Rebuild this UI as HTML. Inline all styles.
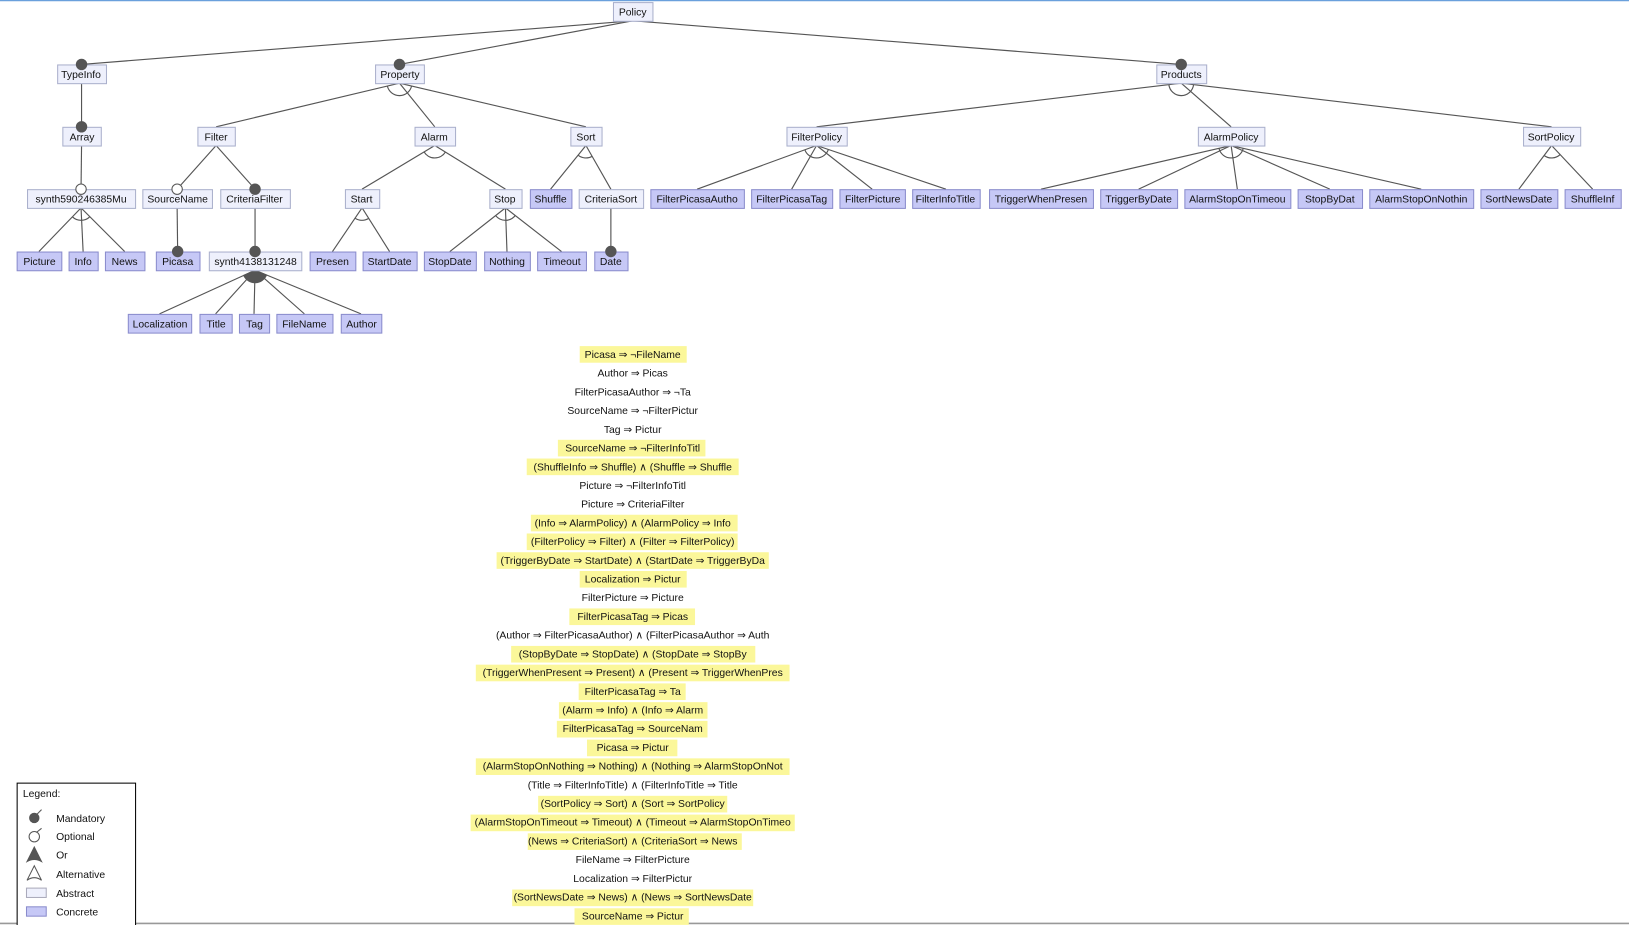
<!DOCTYPE html>
<html><head><meta charset="utf-8"><style>
html,body{margin:0;padding:0;background:#fff;}
svg{display:block;}
text{font-family:"Liberation Sans",sans-serif;font-size:10px;fill:#111;}
</style></head><body>
<svg id="s" width="1629" height="925" viewBox="0 0 1568 890" preserveAspectRatio="none" xmlns="http://www.w3.org/2000/svg">
<line x1="0" y1="0.5" x2="1568" y2="0.5" stroke="#6aa0dc" stroke-width="1.5"/>
<line x1="0" y1="888.5" x2="1568" y2="888.5" stroke="#999" stroke-width="1.5"/>
<g id="edges"></g>
<g id="boxes"></g>
<g id="labels" text-anchor="middle">
<text x="609" y="15">Policy</text>
<text x="78" y="75">TypeInfo</text>
<text x="385" y="75">Property</text>
<text x="1137" y="75">Products</text>
<text x="79" y="135">Array</text>
<text x="208" y="135">Filter</text>
<text x="418" y="135">Alarm</text>
<text x="564" y="135">Sort</text>
<text x="786" y="135">FilterPolicy</text>
<text x="1185" y="135">AlarmPolicy</text>
<text x="1493" y="135">SortPolicy</text>
<text x="78" y="195">synth590246385Mu</text>
<text x="171" y="195">SourceName</text>
<text x="245" y="195">CriteriaFilter</text>
<text x="348" y="195">Start</text>
<text x="486" y="195">Stop</text>
<text x="530" y="195">Shuffle</text>
<text x="588" y="195">CriteriaSort</text>
<text x="671" y="195">FilterPicasaAutho</text>
<text x="762" y="195">FilterPicasaTag</text>
<text x="840" y="195">FilterPicture</text>
<text x="910" y="195">FilterInfoTitle</text>
<text x="1002" y="195">TriggerWhenPresen</text>
<text x="1096" y="195">TriggerByDate</text>
<text x="1191" y="195">AlarmStopOnTimeou</text>
<text x="1280" y="195">StopByDat</text>
<text x="1368" y="195">AlarmStopOnNothin</text>
<text x="1462" y="195">SortNewsDate</text>
<text x="1533" y="195">ShuffleInf</text>
<text x="38" y="255">Picture</text>
<text x="80" y="255">Info</text>
<text x="120" y="255">News</text>
<text x="171" y="255">Picasa</text>
<text x="246" y="255">synth4138131248</text>
<text x="320" y="255">Presen</text>
<text x="375" y="255">StartDate</text>
<text x="433" y="255">StopDate</text>
<text x="488" y="255">Nothing</text>
<text x="541" y="255">Timeout</text>
<text x="588" y="255">Date</text>
<text x="154" y="315">Localization</text>
<text x="208" y="315">Title</text>
<text x="245" y="315">Tag</text>
<text x="293" y="315">FileName</text>
<text x="348" y="315">Author</text>
</g>
<g id="hl" fill="#fbf79a"></g>
<g id="cons" text-anchor="middle">
<text x="609" y="344.5">Picasa ⇒ ¬FileName</text>
<text x="609" y="362.5">Author ⇒ Picas</text>
<text x="609" y="380.5">FilterPicasaAuthor ⇒ ¬Ta</text>
<text x="609" y="398.5">SourceName ⇒ ¬FilterPictur</text>
<text x="609" y="416.5">Tag ⇒ Pictur</text>
<text x="609" y="434.5">SourceName ⇒ ¬FilterInfoTitl</text>
<text x="609" y="452.5">(ShuffleInfo ⇒ Shuffle) ∧ (Shuffle ⇒ Shuffle</text>
<text x="609" y="470.5">Picture ⇒ ¬FilterInfoTitl</text>
<text x="609" y="488.5">Picture ⇒ CriteriaFilter</text>
<text x="609" y="506.5">(Info ⇒ AlarmPolicy) ∧ (AlarmPolicy ⇒ Info</text>
<text x="609" y="524.5">(FilterPolicy ⇒ Filter) ∧ (Filter ⇒ FilterPolicy)</text>
<text x="609" y="542.5">(TriggerByDate ⇒ StartDate) ∧ (StartDate ⇒ TriggerByDa</text>
<text x="609" y="560.5">Localization ⇒ Pictur</text>
<text x="609" y="578.5">FilterPicture ⇒ Picture</text>
<text x="609" y="596.5">FilterPicasaTag ⇒ Picas</text>
<text x="609" y="614.5">(Author ⇒ FilterPicasaAuthor) ∧ (FilterPicasaAuthor ⇒ Auth</text>
<text x="609" y="632.5">(StopByDate ⇒ StopDate) ∧ (StopDate ⇒ StopBy</text>
<text x="609" y="650.5">(TriggerWhenPresent ⇒ Present) ∧ (Present ⇒ TriggerWhenPres</text>
<text x="609" y="668.5">FilterPicasaTag ⇒ Ta</text>
<text x="609" y="686.5">(Alarm ⇒ Info) ∧ (Info ⇒ Alarm</text>
<text x="609" y="704.5">FilterPicasaTag ⇒ SourceNam</text>
<text x="609" y="722.5">Picasa ⇒ Pictur</text>
<text x="609" y="740.5">(AlarmStopOnNothing ⇒ Nothing) ∧ (Nothing ⇒ AlarmStopOnNot</text>
<text x="609" y="758.5">(Title ⇒ FilterInfoTitle) ∧ (FilterInfoTitle ⇒ Title</text>
<text x="609" y="776.5">(SortPolicy ⇒ Sort) ∧ (Sort ⇒ SortPolicy</text>
<text x="609" y="794.5">(AlarmStopOnTimeout ⇒ Timeout) ∧ (Timeout ⇒ AlarmStopOnTimeo</text>
<text x="609" y="812.5">(News ⇒ CriteriaSort) ∧ (CriteriaSort ⇒ News</text>
<text x="609" y="830.5">FileName ⇒ FilterPicture</text>
<text x="609" y="848.5">Localization ⇒ FilterPictur</text>
<text x="609" y="866.5">(SortNewsDate ⇒ News) ∧ (News ⇒ SortNewsDate</text>
<text x="609" y="884.5">SourceName ⇒ Pictur</text>
</g>
<g id="legend">
<rect x="16.5" y="753.5" width="114" height="140" fill="#fff" stroke="#000"/>
<text x="22" y="767">Legend:</text>
<circle cx="33" cy="787" r="5" fill="#555"/><line x1="35" y1="784" x2="40" y2="779" stroke="#555"/>
<text x="54" y="791">Mandatory</text>
<circle cx="33" cy="805" r="5" fill="#fff" stroke="#555"/><line x1="35" y1="801" x2="40" y2="797" stroke="#555"/>
<text x="54" y="808">Optional</text>
<path d="M26 829 L33 815 L40 829 Q33 825 26 829Z" fill="#555" stroke="#555"/>
<text x="54" y="826">Or</text>
<path d="M26 847 L33 833 L40 847 M26 847 Q33 842 40 847" fill="none" stroke="#555"/>
<text x="54" y="845">Alternative</text>
<rect x="25.5" y="854.5" width="19" height="9" fill="#eef0fc" stroke="#aab"/>
<text x="54" y="863">Abstract</text>
<rect x="25.5" y="872.5" width="19" height="9" fill="#c6c8f6" stroke="#8a8ccc"/>
<text x="54" y="881">Concrete</text>
</g>
</svg>
<script>
(function(){
var N={
Policy:[590,628,0,0],TypeInfo:[55,102,1,0],Property:[361,408,1,0],Products:[1113,1161,1,0],
Array:[60,97,2,0],Filter:[190,226,2,0],Alarm:[399,438,2,0],Sort:[549,579,2,0],FilterPolicy:[757,815,2,0],AlarmPolicy:[1153,1217,2,0],SortPolicy:[1466,1521,2,0],
Synth1:[26,130,3,0],SourceName:[137,204,3,0],CriteriaFilter:[212,279,3,0],Start:[332,365,3,0],Stop:[471,502,3,0],Shuffle:[510,550,3,1],CriteriaSort:[557,619,3,0],
FPA:[626,716,3,1],FPT:[723,801,3,1],FP:[808,871,3,1],FIT:[878,943,3,1],TWP:[952,1052,3,1],TBD:[1059,1133,3,1],ASOT:[1140,1242,3,1],SBD:[1249,1311,3,1],ASON:[1318,1418,3,1],SND:[1425,1499,3,1],SI:[1506,1560,3,1],
Picture:[16,59,4,1],Info:[66,94,4,1],News:[101,139,4,1],Picasa:[150,192,4,1],Synth2:[201,290,4,0],Presen:[298,342,4,1],StartDate:[349,401,4,1],StopDate:[408,458,4,1],Nothing:[466,510,4,1],Timeout:[517,564,4,1],Date:[572,604,4,1],
Loc:[123,184,5,1],Title:[192,223,5,1],Tag:[230,259,5,1],FileName:[266,320,5,1],Author:[328,367,5,1]};
var E=[["Policy","m",["TypeInfo","Property","Products"]],["TypeInfo","m",["Array"]],["Array","o",["Synth1"]],
["Synth1","alt",["Picture","Info","News"]],["Property","alt",["Filter","Alarm","Sort"]],["Filter","mix",[["SourceName","o"],["CriteriaFilter","m"]]],
["SourceName","m",["Picasa"]],["CriteriaFilter","m",["Synth2"]],["Synth2","or",["Loc","Title","Tag","FileName","Author"]],
["Alarm","alt",["Start","Stop"]],["Start","alt",["Presen","StartDate"]],["Stop","alt",["StopDate","Nothing","Timeout"]],["Sort","alt",["Shuffle","CriteriaSort"]],["CriteriaSort","m",["Date"]],
["Products","alt",["FilterPolicy","AlarmPolicy","SortPolicy"]],["FilterPolicy","alt",["FPA","FPT","FP","FIT"]],["AlarmPolicy","alt",["TWP","TBD","ASOT","SBD","ASON"]],["SortPolicy","alt",["SND","SI"]]];
var ns="http://www.w3.org/2000/svg",eg=document.getElementById("edges"),bg=document.getElementById("boxes");
function el(t,a,p){var e=document.createElementNS(ns,t);for(var k in a)e.setAttribute(k,a[k]);p.appendChild(e);return e;}
function ptTop(n){var b=N[n];return [(b[0]+b[1])/2,b[2]*60+2];}
function ptBot(n){var b=N[n];return [(b[0]+b[1])/2,b[2]*60+20];}
var circles=[];
E.forEach(function(e){var p=ptBot(e[0]);var kids=e[2];var angs=[];
kids.forEach(function(k){var name=k,typ=e[1];if(Array.isArray(k)){name=k[0];typ=k[1];}
var c=ptTop(name);el("line",{x1:p[0],y1:p[1],x2:c[0],y2:c[1],stroke:"#555","stroke-width":1.1},eg);
angs.push(Math.atan2(c[1]-p[1],c[0]-p[0]));
if(typ=="m"||typ=="o")circles.push([c[0],c[1],typ]);});
if(e[1]=="alt"||e[1]=="or"){var r=12,a1=Math.max.apply(null,angs),a2=Math.min.apply(null,angs);
var x1=p[0]+r*Math.cos(a1),y1=p[1]+r*Math.sin(a1),x2=p[0]+r*Math.cos(a2),y2=p[1]+r*Math.sin(a2);
if(e[1]=="alt")el("path",{d:"M"+x1+" "+y1+" A"+r+" "+r+" 0 0 0 "+x2+" "+y2,fill:"none",stroke:"#555","stroke-width":1.1},eg);
else el("path",{d:"M"+p[0]+" "+p[1]+" L"+x1+" "+y1+" A"+r+" "+r+" 0 0 0 "+x2+" "+y2+"Z",fill:"#555",stroke:"#555"},eg);}});
for(var n in N){var b=N[n];el("rect",{x:b[0]+0.5,y:b[2]*60+2.5,width:b[1]-b[0],height:18,fill:b[3]?"#c6c8f6":"#eef0fc",stroke:b[3]?"#8a8ccc":"#aab0cc"},bg);}
circles.forEach(function(c){el("circle",{cx:c[0],cy:c[1],r:5,fill:c[2]=="m"?"#555":"#fff",stroke:"#555"},bg);});
var H=[[1,558,661],[6,537,679],[7,507,711],[10,511,710],[11,507,710],[12,478,740],[13,558,661],[15,548,669],[17,492,727],[18,458,760],[19,557,660],[20,538,681],[21,536,681],[22,565,652],[23,458,760],[25,518,700],[26,453,765],[27,508,714],[30,493,725],[31,553,663]];
var hg=document.getElementById("hl");
H.forEach(function(h){var cy=341+(h[0]-1)*18.03;el("rect",{x:h[1],y:cy-8,width:h[2]-h[1],height:16},hg);});
})();
</script>
</body></html>
